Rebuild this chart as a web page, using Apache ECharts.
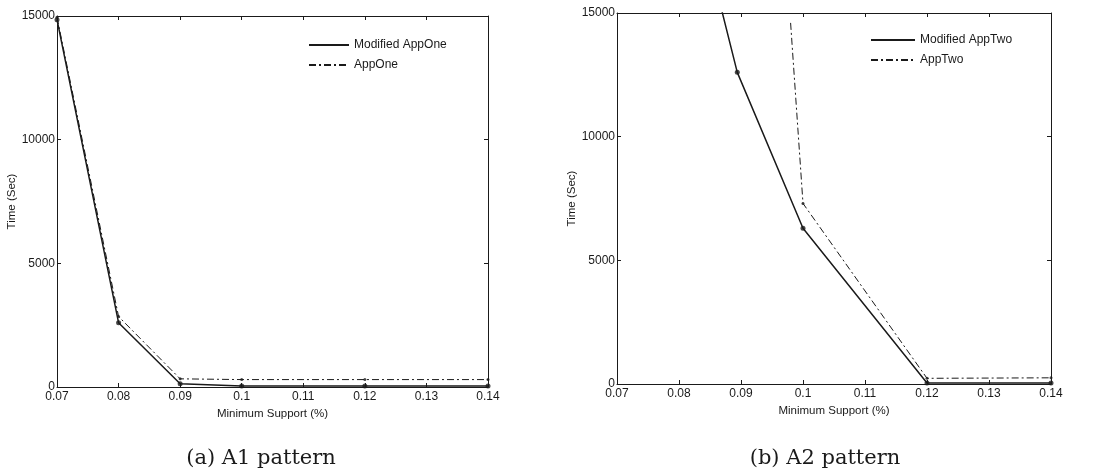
<!DOCTYPE html>
<html>
<head>
<meta charset="utf-8">
<script src="https://cdn.jsdelivr.net/npm/echarts@6/dist/echarts.min.js"></script>
<style>
  html, body { margin: 0; padding: 0; background: #fff; }
  #chart { width: 1111px; height: 475px; }
</style>
</head>
<body>
<div id="chart"></div>
<script>
// (a) A1 pattern
const supportA1 = [0.07, 0.08, 0.09, 0.1, 0.12, 0.14]
const modifiedAppOne = [14850, 2600, 130, 40, 40, 40]
const appOne = [14950, 2850, 330, 300, 300, 300]

// (b) A2 pattern (first points run past the top of the plot)
const supportModTwo = [0.08, 0.0894, 0.1, 0.12, 0.14]
const modifiedAppTwo = [22000, 12600, 6300, 40, 40]
const supportAppTwo = [0.098, 0.1, 0.12, 0.14]
const appTwo = [14600, 7300, 230, 250]

const xTicks = { min: 0.07, max: 0.14, interval: 0.01 }
const yTicks = { min: 0, max: 15000, interval: 5000 }
const captions = ['(a) A1 pattern', '(b) A2 pattern']

const ink = '#1a1a1a'
const font = 'Liberation Sans, Arial, sans-serif'
const pairs = (xs, ys) => xs.map((x, i) => [x, ys[i]])

const grids = [
  { left: 57, right: 623, top: 16, bottom: 88 },
  { left: 617, right: 60, top: 13, bottom: 91 }
]
const yNameGaps = [33, 26]

function xAxes (gi) {
  return [{
    type: 'value', gridIndex: gi, position: 'bottom', ...xTicks,
    name: 'Minimum Support (%)', nameLocation: 'middle', nameGap: 21,
    nameTextStyle: { color: ink, fontFamily: font, fontSize: 11.5 },
    axisLine: { onZero: false, lineStyle: { color: ink, width: 1 } },
    axisTick: { inside: true, length: 4, lineStyle: { color: ink } },
    axisLabel: { color: ink, fontFamily: font, fontSize: 12, margin: 4, formatter: v => String(+v.toFixed(2)) },
    splitLine: { show: false }
  }, {
    type: 'value', gridIndex: gi, position: 'top', ...xTicks,
    axisLine: { onZero: false, lineStyle: { color: ink, width: 1 } },
    axisTick: { inside: true, length: 4, lineStyle: { color: ink } },
    axisLabel: { show: false }, splitLine: { show: false }
  }]
}

function yAxes (gi) {
  return [{
    type: 'value', gridIndex: gi, position: 'left', ...yTicks,
    name: 'Time (Sec)', nameLocation: 'middle', nameGap: yNameGaps[gi],
    nameTextStyle: { color: ink, fontFamily: font, fontSize: 11.5 },
    axisLine: { show: true, onZero: false, lineStyle: { color: ink, width: 1 } },
    axisTick: { show: true, inside: true, length: 4, lineStyle: { color: ink } },
    axisLabel: { color: ink, fontFamily: font, fontSize: 12, margin: 2, formatter: v => String(v) },
    splitLine: { show: false }
  }, {
    type: 'value', gridIndex: gi, position: 'right', ...yTicks,
    axisLine: { show: true, onZero: false, lineStyle: { color: ink, width: 1 } },
    axisTick: { show: true, inside: true, length: 4, lineStyle: { color: ink } },
    axisLabel: { show: false }, splitLine: { show: false }
  }]
}

function lineSeries (name, gi, data, dashed) {
  return {
    name, type: 'line', xAxisIndex: gi * 2, yAxisIndex: gi * 2,
    data, symbol: 'none', clip: true, animation: false,
    itemStyle: { color: 'rgba(0,0,0,0)' },
    lineStyle: { color: ink, width: dashed ? 1 : 1.5, type: dashed ? [7, 3, 2, 3] : 'solid' }
  }
}

function dots (gi, data, size) {
  return {
    type: 'scatter', xAxisIndex: gi * 2, yAxisIndex: gi * 2,
    data, symbolSize: size, clip: true, animation: false,
    itemStyle: { color: ink }
  }
}

const legendText = { color: ink, fontFamily: font, fontSize: 12 }

const option = {
  backgroundColor: '#fff',
  animation: false,
  grid: grids,
  xAxis: [...xAxes(0), ...xAxes(1)],
  yAxis: [...yAxes(0), ...yAxes(1)],
  legend: [{
    data: ['Modified AppOne', 'AppOne'], orient: 'vertical',
    left: 303, top: 34, itemWidth: 40, itemHeight: 14, itemGap: 8,
    itemStyle: { opacity: 0 }, textStyle: legendText
  }, {
    data: ['Modified AppTwo', 'AppTwo'], orient: 'vertical',
    left: 865, top: 29, itemWidth: 44, itemHeight: 14, itemGap: 8,
    itemStyle: { opacity: 0 }, textStyle: legendText
  }],
  title: captions.map((t, i) => ({
    text: t, left: i === 0 ? 256 : 820, top: 443, textAlign: 'center',
    textStyle: { color: ink, fontFamily: 'DejaVu Serif, serif', fontSize: 21, fontWeight: 'normal' }
  })),
  series: [
    lineSeries('Modified AppOne', 0, pairs(supportA1, modifiedAppOne), false),
    lineSeries('AppOne', 0, pairs(supportA1, appOne), true),
    dots(0, pairs(supportA1, modifiedAppOne), 5),
    dots(0, pairs(supportA1, appOne), 3),
    lineSeries('Modified AppTwo', 1, pairs(supportModTwo, modifiedAppTwo), false),
    lineSeries('AppTwo', 1, pairs(supportAppTwo, appTwo), true),
    dots(1, pairs(supportModTwo, modifiedAppTwo), 5),
    dots(1, pairs(supportAppTwo, appTwo).slice(1), 3)
  ]
}

const chart = echarts.init(document.getElementById('chart'), null, { renderer: 'canvas' })
chart.setOption(option)
</script>
</body>
</html>
